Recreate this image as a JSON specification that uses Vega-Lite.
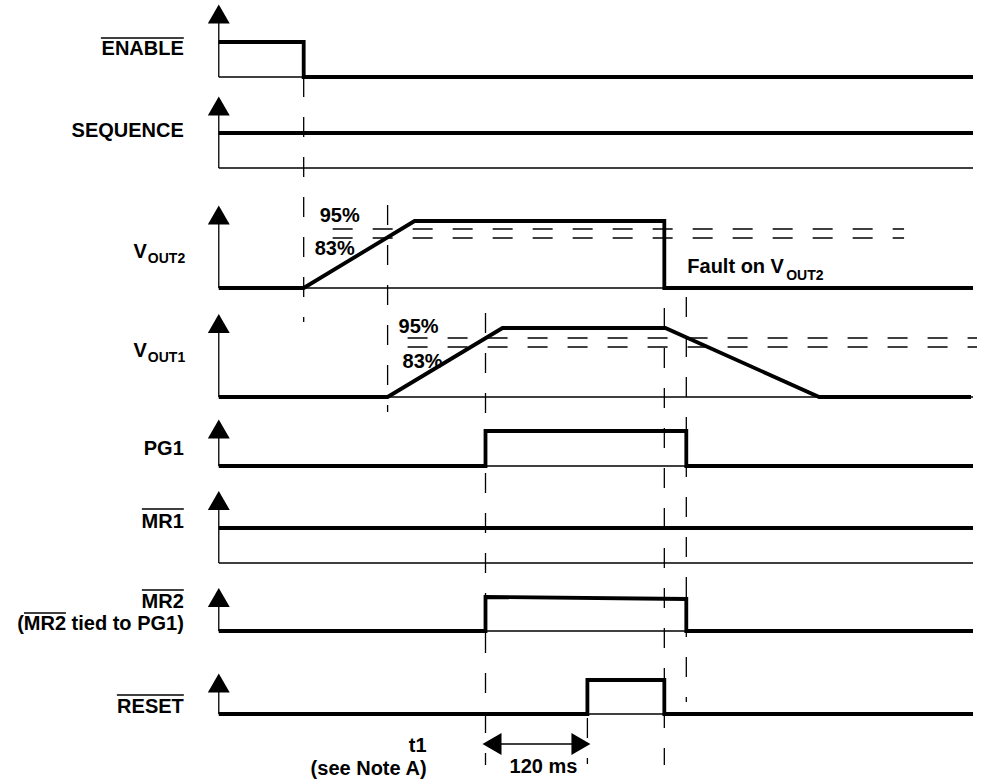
{
  "$schema": "https://vega.github.io/schema/vega-lite/v6.json",
  "width": 981,
  "height": 782,
  "autosize": {"type": "fit", "contains": "padding"},
  "padding": 0,
  "background": "white",
  "config": {
    "view": {"stroke": null},
    "text": {"font": "Liberation Sans", "fontWeight": "bold", "fontSize": 20, "color": "black"}
  },
  "datasets": {
    "sig": [
      {"s": "ENABLE", "i": 0, "x": 219, "y": 42}, {"s": "ENABLE", "i": 1, "x": 304, "y": 42}, {"s": "ENABLE", "i": 2, "x": 304, "y": 77}, {"s": "ENABLE", "i": 3, "x": 974, "y": 77},
      {"s": "SEQUENCE", "i": 0, "x": 219, "y": 133}, {"s": "SEQUENCE", "i": 1, "x": 974, "y": 133},
      {"s": "VOUT2", "i": 0, "x": 219, "y": 288}, {"s": "VOUT2", "i": 1, "x": 304, "y": 288}, {"s": "VOUT2", "i": 2, "x": 415, "y": 221}, {"s": "VOUT2", "i": 3, "x": 665, "y": 221}, {"s": "VOUT2", "i": 4, "x": 665, "y": 288}, {"s": "VOUT2", "i": 5, "x": 974, "y": 288},
      {"s": "VOUT1", "i": 0, "x": 219, "y": 397}, {"s": "VOUT1", "i": 1, "x": 388, "y": 397}, {"s": "VOUT1", "i": 2, "x": 503, "y": 328}, {"s": "VOUT1", "i": 3, "x": 666, "y": 328}, {"s": "VOUT1", "i": 4, "x": 820, "y": 397}, {"s": "VOUT1", "i": 5, "x": 972, "y": 397},
      {"s": "PG1", "i": 0, "x": 219, "y": 466}, {"s": "PG1", "i": 1, "x": 486, "y": 466}, {"s": "PG1", "i": 2, "x": 486, "y": 431}, {"s": "PG1", "i": 3, "x": 687, "y": 431}, {"s": "PG1", "i": 4, "x": 687, "y": 466}, {"s": "PG1", "i": 5, "x": 974, "y": 466},
      {"s": "MR1", "i": 0, "x": 219, "y": 528}, {"s": "MR1", "i": 1, "x": 974, "y": 528},
      {"s": "MR2", "i": 0, "x": 219, "y": 631}, {"s": "MR2", "i": 1, "x": 486, "y": 631}, {"s": "MR2", "i": 2, "x": 486, "y": 597}, {"s": "MR2", "i": 3, "x": 687, "y": 599}, {"s": "MR2", "i": 4, "x": 687, "y": 631}, {"s": "MR2", "i": 5, "x": 974, "y": 631},
      {"s": "RESET", "i": 0, "x": 219, "y": 714}, {"s": "RESET", "i": 1, "x": 588, "y": 714}, {"s": "RESET", "i": 2, "x": 588, "y": 680}, {"s": "RESET", "i": 3, "x": 665, "y": 680}, {"s": "RESET", "i": 4, "x": 665, "y": 714}, {"s": "RESET", "i": 5, "x": 974, "y": 714}
    ],
    "thin": [
      {"x": 219, "y": 77, "x2": 974, "y2": 77}, {"x": 219, "y": 168, "x2": 974, "y2": 168},
      {"x": 219, "y": 288, "x2": 974, "y2": 288}, {"x": 219, "y": 397, "x2": 974, "y2": 397},
      {"x": 219, "y": 466, "x2": 974, "y2": 466}, {"x": 219, "y": 563, "x2": 974, "y2": 563},
      {"x": 219, "y": 631, "x2": 974, "y2": 631}, {"x": 219, "y": 714, "x2": 974, "y2": 714},
      {"x": 219, "y": 18, "x2": 219, "y2": 77}, {"x": 219, "y": 110, "x2": 219, "y2": 168},
      {"x": 219, "y": 219, "x2": 219, "y2": 288}, {"x": 219, "y": 327, "x2": 219, "y2": 397},
      {"x": 219, "y": 432, "x2": 219, "y2": 466}, {"x": 219, "y": 504, "x2": 219, "y2": 563},
      {"x": 219, "y": 601, "x2": 219, "y2": 631}, {"x": 219, "y": 687, "x2": 219, "y2": 714}
    ],
    "mid": [
      {"x": 490, "y": 744, "x2": 584, "y2": 744},
      {"x": 101, "y": 38, "x2": 184, "y2": 38},
      {"x": 142, "y": 509, "x2": 184, "y2": 509},
      {"x": 142, "y": 590, "x2": 184, "y2": 590},
      {"x": 24, "y": 613, "x2": 66, "y2": 613},
      {"x": 117, "y": 695, "x2": 184, "y2": 695}
    ],
    "dash": [
      {"x": 304, "y": 77, "x2": 304, "y2": 322},
      {"x": 388, "y": 205, "x2": 388, "y2": 412},
      {"x": 486, "y": 313, "x2": 486, "y2": 765},
      {"x": 665, "y": 308, "x2": 665, "y2": 765},
      {"x": 687, "y": 297, "x2": 687, "y2": 702},
      {"x": 588, "y": 718, "x2": 588, "y2": 764},
      {"x": 333, "y": 229, "x2": 905, "y2": 229},
      {"x": 333, "y": 238, "x2": 905, "y2": 238},
      {"x": 408, "y": 338, "x2": 978, "y2": 338},
      {"x": 408, "y": 347, "x2": 978, "y2": 347}
    ],
    "heads": [
      {"x": 219, "y": 14, "sh": "triangle-up"}, {"x": 219, "y": 106, "sh": "triangle-up"},
      {"x": 219, "y": 215, "sh": "triangle-up"}, {"x": 219, "y": 323.5, "sh": "triangle-up"},
      {"x": 219, "y": 429, "sh": "triangle-up"}, {"x": 219, "y": 500.5, "sh": "triangle-up"},
      {"x": 219, "y": 597.5, "sh": "triangle-up"}, {"x": 219, "y": 683, "sh": "triangle-up"},
      {"x": 492.5, "y": 744, "sh": "triangle-left"}, {"x": 581.5, "y": 744, "sh": "triangle-right"}
    ],
    "txtR": [
      {"x": 184, "y": 55, "t": "ENABLE"},
      {"x": 184, "y": 137, "t": "SEQUENCE"},
      {"x": 147, "y": 258, "t": "V"},
      {"x": 147, "y": 357, "t": "V"},
      {"x": 184, "y": 455, "t": "PG1"},
      {"x": 184, "y": 528, "t": "MR1"},
      {"x": 184, "y": 608, "t": "MR2"},
      {"x": 184, "y": 630, "t": "(MR2 tied to PG1)"},
      {"x": 184, "y": 713, "t": "RESET"},
      {"x": 427, "y": 752, "t": "t1"},
      {"x": 427, "y": 775, "t": "(see Note A)"}
    ],
    "txtL": [
      {"x": 320, "y": 222, "t": "95%"},
      {"x": 315, "y": 255, "t": "83%"},
      {"x": 399, "y": 333, "t": "95%"},
      {"x": 403, "y": 368, "t": "83%"},
      {"x": 688, "y": 273, "t": "Fault on V"}
    ],
    "txtS": [
      {"x": 148, "y": 263, "t": "OUT2"},
      {"x": 148, "y": 362, "t": "OUT1"},
      {"x": 787, "y": 280, "t": "OUT2"}
    ],
    "txtC": [
      {"x": 544, "y": 773, "t": "120 ms"}
    ]
  },
  "encoding": {
    "x": {"field": "x", "type": "quantitative", "axis": null, "scale": {"domain": [0, 981], "nice": false, "zero": false}},
    "y": {"field": "y", "type": "quantitative", "axis": null, "scale": {"domain": [0, 782], "nice": false, "zero": false, "reverse": true}}
  },
  "layer": [
    {
      "data": {"name": "thin"},
      "mark": {"type": "rule", "color": "black", "strokeWidth": 1.3},
      "encoding": {"x2": {"field": "x2"}, "y2": {"field": "y2"}}
    },
    {
      "data": {"name": "dash"},
      "mark": {"type": "rule", "color": "black", "strokeWidth": 1.3, "strokeDash": [20, 20]},
      "encoding": {"x2": {"field": "x2"}, "y2": {"field": "y2"}}
    },
    {
      "data": {"name": "mid"},
      "mark": {"type": "rule", "color": "black", "strokeWidth": 1.7},
      "encoding": {"x2": {"field": "x2"}, "y2": {"field": "y2"}}
    },
    {
      "data": {"name": "sig"},
      "mark": {"type": "line", "color": "black", "strokeWidth": 3.8, "strokeJoin": "miter"},
      "encoding": {"detail": {"field": "s"}, "order": {"field": "i", "type": "quantitative"}}
    },
    {
      "data": {"name": "heads"},
      "mark": {"type": "point", "filled": true, "color": "black", "opacity": 1, "size": 480, "strokeWidth": 0},
      "encoding": {"shape": {"field": "sh", "type": "nominal", "scale": null, "legend": null}}
    },
    {
      "data": {"name": "txtR"},
      "mark": {"type": "text", "align": "right", "baseline": "alphabetic"},
      "encoding": {"text": {"field": "t"}}
    },
    {
      "data": {"name": "txtL"},
      "mark": {"type": "text", "align": "left", "baseline": "alphabetic"},
      "encoding": {"text": {"field": "t"}}
    },
    {
      "data": {"name": "txtS"},
      "mark": {"type": "text", "align": "left", "baseline": "alphabetic", "fontSize": 14},
      "encoding": {"text": {"field": "t"}}
    },
    {
      "data": {"name": "txtC"},
      "mark": {"type": "text", "align": "center", "baseline": "alphabetic"},
      "encoding": {"text": {"field": "t"}}
    }
  ]
}
